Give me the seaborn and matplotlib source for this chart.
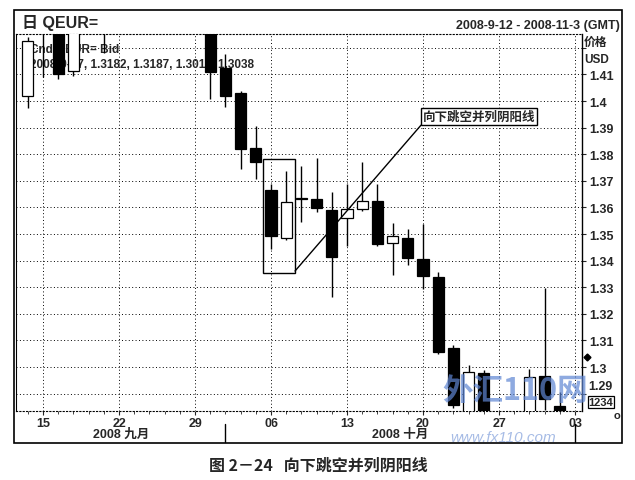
import numpy as np
import pandas as pd
import matplotlib
matplotlib.use("Agg")
import matplotlib.pyplot as plt
import matplotlib.transforms as mtransforms
from matplotlib.patches import Rectangle
import seaborn as sns

# ---------------- data (EUR/USD daily) ----------------
dates = ["2008-09-12", "2008-09-15", "2008-09-16", "2008-09-17", "2008-09-18", "2008-09-19",
         "2008-09-22", "2008-09-23", "2008-09-24", "2008-09-25", "2008-09-26",
         "2008-09-29", "2008-09-30", "2008-10-01", "2008-10-02", "2008-10-03",
         "2008-10-06", "2008-10-07", "2008-10-08", "2008-10-09", "2008-10-10",
         "2008-10-13", "2008-10-14", "2008-10-15", "2008-10-16", "2008-10-17",
         "2008-10-20", "2008-10-21", "2008-10-22", "2008-10-23", "2008-10-24",
         "2008-10-27", "2008-10-28", "2008-10-29", "2008-10-30", "2008-10-31",
         "2008-11-03"]
opens = [1.4020, 1.4265, 1.4300, 1.4113, 1.4270, 1.4380,
         1.4470, 1.4750, 1.4650, 1.4630, 1.4600,
         1.4620, 1.4390, 1.4123, 1.4029, 1.3823,
         1.3667, 1.3485, 1.3636, 1.3632, 1.3591,
         1.3559, 1.3594, 1.3625, 1.3466, 1.3485,
         1.3406, 1.3337, 1.3070, 1.2780, 1.2977,
         1.2500, 1.2480, 1.2660, 1.2966, 1.2855,
         1.2730]
highs = [1.4240, 1.4330, 1.4320, 1.4300, 1.4420, 1.4470,
         1.4790, 1.4760, 1.4700, 1.4700, 1.4690,
         1.4670, 1.4420, 1.4177, 1.4036, 1.3906,
         1.3688, 1.3737, 1.3755, 1.3786, 1.3658,
         1.3688, 1.3772, 1.3688, 1.3541, 1.3519,
         1.3538, 1.3358, 1.3083, 1.3008, 1.2990,
         1.2640, 1.2720, 1.2992, 1.3297, 1.2906,
         1.2800]
lows = [1.3973, 1.4090, 1.4083, 1.4094, 1.4265, 1.4180,
        1.4450, 1.4620, 1.4590, 1.4560, 1.4520,
        1.4350, 1.4008, 1.3977, 1.3744, 1.3707,
        1.3444, 1.3477, 1.3545, 1.3583, 1.3263,
        1.3456, 1.3588, 1.3456, 1.3346, 1.3383,
        1.3293, 1.3049, 1.2846, 1.2720, 1.2330,
        1.2330, 1.2420, 1.2600, 1.2840, 1.2660,
        1.2660]
closes = [1.4226, 1.4300, 1.4101, 1.4270, 1.4370, 1.4440,
          1.4750, 1.4650, 1.4630, 1.4600, 1.4630,
          1.4390, 1.4109, 1.4020, 1.3820, 1.3771,
          1.3492, 1.3620, 1.3630, 1.3598, 1.3415,
          1.3594, 1.3625, 1.3462, 1.3491, 1.3409,
          1.3343, 1.3058, 1.2857, 1.2982, 1.2550,
          1.2480, 1.2660, 1.2962, 1.2880, 1.2730,
          1.2720]
price_ticks = [1.29, 1.30, 1.31, 1.32, 1.33, 1.34, 1.35, 1.36, 1.37, 1.38, 1.39, 1.40, 1.41, 1.42]
month_names = {9: "九月", 10: "十月", 11: "十一月"}
last_price = 1.3038
note_days = ["2008-10-06", "2008-10-07"]
note_text = "向下跳空并列阴阳线"
title_text = "日 QEUR="
range_text = "2008-9-12 - 2008-11-3 (GMT)"
legend_line1 = "Cnd QEUR= Bid"
legend_line2 = "2008-9-17, 1.3182, 1.3187, 1.3011, 1.3038"
caption = "图 2－24   向下跳空并列阴阳线"

df = pd.DataFrame({"date": pd.to_datetime(dates), "open": opens, "high": highs,
                   "low": lows, "close": closes})
df["idx"] = np.arange(len(df))
df["up"] = df["close"] >= df["open"]

# ---------------- style ----------------
sns.set_style("white")
plt.rcParams["font.family"] = ["Liberation Sans", "Noto Sans CJK SC", "DejaVu Sans"]
plt.rcParams["font.weight"] = "bold"

W, H = 635, 481
fig = plt.figure(figsize=(W / 100, H / 100), dpi=100)
fx = lambda px: px / W
fy = lambda py: 1 - py / H
ax = fig.add_axes([fx(16), fy(412), fx(582) - fx(16), fy(35) - fy(412)])

ax.set_xlim(-0.78, 36.46)
ax.set_ylim(1.28346, 1.42519)

# grid
ax.set_axisbelow(True)
ax.grid(True, color="black", linestyle=(0, (1, 2.5)), linewidth=0.7)

# ---------------- candles ----------------
ax.vlines(df["idx"], df["low"], df["high"], color="black", linewidth=1.0, zorder=2)
body_bottom = np.minimum(df["open"], df["close"])
body_height = np.abs(df["close"] - df["open"])
ax.bar(df["idx"], body_height, bottom=body_bottom, width=0.74,
       color=np.where(df["up"], "white", "black"), edgecolor="black",
       linewidth=0.9, zorder=3)

# ---------------- axes ticks ----------------
mondays = df[df["date"].dt.weekday == 0]
ax.set_xticks(mondays["idx"])
ax.set_xticklabels(mondays["date"].dt.strftime("%d"))
ax.set_xticks(df["idx"], minor=True)
ax.tick_params(axis="x", which="major", length=3, width=0.8, pad=1, labelsize=9,
               direction="out", bottom=True)
ax.tick_params(axis="x", which="minor", length=2, width=0.6, bottom=True)
for lab in ax.get_xticklabels():
    lab.set_fontweight("bold")

ax.yaxis.tick_right()
ax.set_yticks(price_ticks)
ylabels = []
for p in price_ticks:
    if p in (1.29, 1.42):
        ylabels.append("")
    else:
        ylabels.append(f"{p:g}")
ax.set_yticklabels(ylabels)
ax.tick_params(axis="y", length=3, width=0.8, pad=2, labelsize=9, direction="out", right=True)
for lab in ax.get_yticklabels():
    lab.set_fontweight("bold")
ytr = mtransforms.blended_transform_factory(ax.transAxes, ax.transData)
ax.text(1.0 + 6 / 566, 1.29 + 0.0007, "1.29", transform=ytr, ha="left", va="bottom",
        fontsize=9, fontweight="bold")
ax.plot([1.0 + 5 / 566], [last_price], marker="D", markersize=3.5, color="black",
        transform=ytr, clip_on=False)

for side in ["top", "bottom"]:
    ax.spines[side].set_linestyle((0, (1, 2)))
    ax.spines[side].set_linewidth(0.8)
ax.spines["left"].set_linewidth(0.8)
ax.spines["right"].set_linewidth(1.0)
for s in ax.spines.values():
    s.set_color("black")

# ---------------- annotation ----------------
sel = df[df["date"].isin(pd.to_datetime(note_days))]
bx0 = sel["idx"].min() - 0.55
bx1 = sel["idx"].max() + 0.58
by0 = sel["low"].min() - 0.0091
by1 = sel["high"].max() + 0.0045
ax.add_patch(Rectangle((bx0, by0), bx1 - bx0, by1 - by0, fill=False,
                       edgecolor="black", linewidth=1.0, zorder=4))
ax.annotate(note_text, xy=(bx1, by0 + 0.0008), xytext=(26.0, 1.3918), textcoords="data",
            ha="left", va="bottom", fontsize=9, fontweight="bold",
            family=["Noto Sans CJK SC", "DejaVu Sans"],
            bbox=dict(boxstyle="square,pad=0.15", fc="white", ec="black", lw=1.0),
            arrowprops=dict(arrowstyle="-", relpos=(0, 0), shrinkA=0, shrinkB=0,
                            lw=1.0, color="black"),
            zorder=5)

# legend text beneath candles
ax.text(fx(30), fy(50), legend_line1, transform=fig.transFigure, ha="left", va="center",
        fontsize=8.5, fontweight="bold", zorder=1.5)
ax.text(fx(30), fy(65), legend_line2, transform=fig.transFigure, ha="left", va="center",
        fontsize=8.5, fontweight="bold", zorder=1.5)

# ---------------- month band ----------------
btr = mtransforms.blended_transform_factory(ax.transData, fig.transFigure)
starts = df.index[df["date"].dt.month != df["date"].dt.month.shift(1)].tolist()
edges = [ax.get_xlim()[0]] + [df.loc[i, "idx"] for i in starts[1:]]
for i in starts[1:]:
    ax.plot([df.loc[i, "idx"]] * 2, [fy(425), fy(443)], color="black", lw=1.0,
            transform=btr, clip_on=False)
for k in range(len(starts) - 1):
    m = df.loc[starts[k], "date"]
    center = (edges[k] + edges[k + 1]) / 2
    ax.text(center, fy(435), f"{m.year} {month_names[m.month]}", transform=btr,
            ha="center", va="center", fontsize=9, fontweight="bold")

# ---------------- watermark ----------------
fig.text(fx(515), fy(391), "外汇110网", ha="center", va="center", fontsize=22,
         fontweight="bold", color="#5f86d3", alpha=0.7,
         family=["Noto Sans CJK SC", "DejaVu Sans"], zorder=6)
fig.text(fx(503), fy(438), "www.fx110.com", ha="center", va="center", fontsize=11,
         style="italic", fontweight="normal", color="#8aa6dd", alpha=0.75, zorder=6)

# ---------------- header, frame, caption ----------------
fig.text(fx(22), fy(23), title_text, ha="left", va="center", fontsize=11.5, fontweight="bold")
fig.text(fx(620), fy(26), range_text, ha="right", va="center", fontsize=9, fontweight="bold")
fig.text(fx(584), fy(43), "价格", ha="left", va="center", fontsize=8.5, fontweight="bold")
fig.text(fx(584), fy(60), "USD", ha="left", va="center", fontsize=8.5, fontweight="bold")
fig.text(fx(601), fy(403), "1234", ha="center", va="center", fontsize=8, fontweight="bold",
         bbox=dict(boxstyle="square,pad=0.1", fc="white", ec="black", lw=0.9))
fig.text(fx(617), fy(416), "o", ha="center", va="center", fontsize=8, fontweight="bold")
fig.patches.append(Rectangle((fx(14), fy(444)), fx(622) - fx(14), fy(11) - fy(444),
                             transform=fig.transFigure, fill=False, edgecolor="black",
                             linewidth=1.2))
fig.text(fx(318), fy(466), caption, ha="center", va="center", fontsize=11.5,
         fontweight="bold", family=["Noto Sans CJK SC", "DejaVu Sans"])

fig.savefig("out.png", dpi=100, facecolor="white")
